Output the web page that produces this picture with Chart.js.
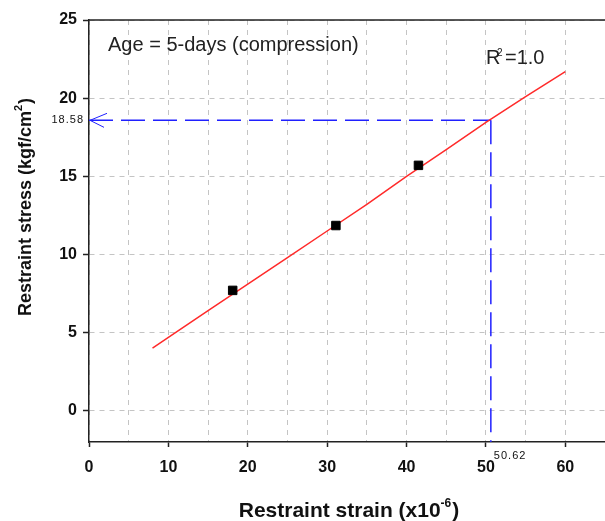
<!DOCTYPE html>
<html>
<head>
<meta charset="utf-8">
<script src="https://cdn.jsdelivr.net/npm/chart.js@4.4.1/dist/chart.umd.min.js"></script>
<style>
  html, body { margin: 0; padding: 0; background: #fff; }
</style>
</head>
<body>
<canvas id="stressChart" width="605" height="521"></canvas>
<script>
// measured points (restraint strain x1e-6, stress kgf/cm2)
var strainPts = [18.1, 31.1, 41.5];
var stressPts = [7.7, 11.85, 15.7];

// fitted curve
var fitStrain = [8, 10, 15, 20, 25, 30, 35, 40, 45, 50, 55, 60];
var fitStress = [4.0, 4.7, 6.4, 8.1, 9.8, 11.5, 13.2, 15.0, 16.7, 18.45, 20.1, 21.7];

// read-off point for the blue guide
var readStrain = 50.62;
var readStress = 18.58;

var xTicks = [0, 5, 10, 15, 20, 25, 30, 35, 40, 45, 50, 55, 60];
var yTicks = [0, 5, 10, 15, 20, 25];
var xRange = [0, 65];
var yRange = [-2, 25];

var FONT = "'Liberation Sans', Arial, sans-serif";
var AXIS = "#222";
var BLUE = "#2020ff";

function toXY(xs, ys) {
    return xs.map(function (x, i) { return { x: x, y: ys[i] }; });
}

// draw a run of text pieces (for superscripts), centred on x
function drawRich(ctx, parts, x, y) {
    var total = 0;
    parts.forEach(function (p) {
        ctx.font = p.font;
        p.w = ctx.measureText(p.t).width + (p.kern || 0);
        total += p.w;
    });
    var cx = x - total / 2;
    parts.forEach(function (p) {
        ctx.font = p.font;
        ctx.fillText(p.t, cx, y + (p.dy || 0));
        cx += p.w;
    });
}

var annotations = {
    id: "annotations",
    afterDraw: function (chart) {
        var ctx = chart.ctx;
        var area = chart.chartArea;
        var xs = chart.scales.x, ys = chart.scales.y;
        ctx.save();

        // top frame line
        ctx.strokeStyle = AXIS;
        ctx.lineWidth = 1.5;
        ctx.beginPath();
        ctx.moveTo(area.left, area.top);
        ctx.lineTo(area.right, area.top);
        ctx.stroke();

        // open arrow head on the y axis
        var ay = ys.getPixelForValue(readStress);
        var ax = xs.getPixelForValue(0);
        ctx.strokeStyle = BLUE;
        ctx.lineWidth = 1;
        ctx.beginPath();
        ctx.moveTo(ax + 18, ay - 7);
        ctx.lineTo(ax + 1, ay);
        ctx.lineTo(ax + 15, ay + 7);
        ctx.stroke();

        ctx.fillStyle = "#111";
        ctx.textBaseline = "alphabetic";

        // small read-off labels
        ctx.font = "11px " + FONT;
        ctx.letterSpacing = "1px";
        ctx.textAlign = "right";
        ctx.fillText(readStress.toFixed(2), ax - 5, ay + 3);
        ctx.textAlign = "left";
        ctx.fillText(readStrain.toFixed(2), xs.getPixelForValue(readStrain) + 3, area.bottom + 17);
        ctx.letterSpacing = "0px";

        // in-plot notes
        ctx.fillStyle = "#222";
        ctx.font = "20px " + FONT;
        ctx.fillText("Age = 5-days (compression)", 108, 51);
        ctx.fillText("R", 486, 64);
        ctx.font = "10px " + FONT;
        ctx.fillText("2", 497, 56);
        ctx.font = "20px " + FONT;
        ctx.fillText("=1.0", 505, 64);

        // axis titles
        ctx.fillStyle = "#111";
        ctx.textAlign = "left";
        drawRich(ctx, [
            { t: "Restraint strain (x10", font: "bold 21px " + FONT },
            { t: "-6", font: "bold 12px " + FONT, dy: -10, kern: 1 },
            { t: ")", font: "bold 21px " + FONT }
        ], 349, 517);

        ctx.translate(31, 207);
        ctx.rotate(-Math.PI / 2);
        drawRich(ctx, [
            { t: "Restraint stress (kgf/cm", font: "bold 18px " + FONT },
            { t: "2", font: "bold 11px " + FONT, dy: -9, kern: 1 },
            { t: ")", font: "bold 18px " + FONT }
        ], 0, 0);

        ctx.restore();
    }
};

document.addEventListener("DOMContentLoaded", function () {
    var ctx = document.getElementById("stressChart").getContext("2d");

    var chart = new Chart(ctx, {
        type: "scatter",
        data: {
            datasets: [{
                label: "Measured",
                data: toXY(strainPts, stressPts),
                pointStyle: "rect",
                pointRadius: 6,
                pointHoverRadius: 6,
                pointBackgroundColor: "#000",
                pointBorderColor: "#000",
                showLine: false
            }, {
                label: "Fit",
                data: toXY(fitStrain, fitStress),
                showLine: true,
                borderColor: "#ff2a2a",
                borderWidth: 1.5,
                pointRadius: 0,
                tension: 0
            }, {
                label: "Guide h",
                data: toXY([0, readStrain], [readStress, readStress]),
                showLine: true,
                borderColor: BLUE,
                borderWidth: 1.5,
                borderDash: [24, 8],
                pointRadius: 0
            }, {
                label: "Guide v",
                data: toXY([readStrain, readStrain], [readStress, yRange[0]]),
                showLine: true,
                borderColor: BLUE,
                borderWidth: 1.5,
                borderDash: [24, 8],
                pointRadius: 0
            }]
        },
        options: {
            responsive: false,
            animation: false,
            layout: {
                autoPadding: false,
                padding: { top: 20, right: 0, bottom: 0, left: 0 }
            },
            plugins: {
                legend: { display: false },
                tooltip: { enabled: false }
            },
            scales: {
                x: {
                    type: "linear",
                    min: xRange[0],
                    max: xRange[1],
                    afterBuildTicks: function (s) {
                        s.ticks = xTicks.map(function (v) { return { value: v }; });
                    },
                    afterFit: function (s) {
                        s.height = 79;
                        s.paddingLeft = 0;
                        s.paddingRight = 0;
                    },
                    ticks: {
                        autoSkip: false,
                        maxRotation: 0,
                        padding: 11,
                        color: "#111",
                        font: { family: FONT, size: 16, weight: "bold" },
                        callback: function (v) { return v % 10 === 0 ? v : ""; }
                    },
                    grid: {
                        color: "#c4c4c4",
                        lineWidth: 1,
                        tickLength: 5,
                        tickWidth: 1.5,
                        tickBorderDash: [],
                        tickColor: function (c) {
                            return c.tick && c.tick.value % 10 === 0 ? AXIS : "rgba(0,0,0,0)";
                        }
                    },
                    border: { color: AXIS, width: 1.5, dash: [5, 5] }
                },
                y: {
                    type: "linear",
                    min: yRange[0],
                    max: yRange[1],
                    afterBuildTicks: function (s) {
                        s.ticks = yTicks.map(function (v) { return { value: v }; });
                    },
                    afterFit: function (s) { s.width = 89; },
                    ticks: {
                        padding: 6,
                        color: "#111",
                        font: { family: FONT, size: 16, weight: "bold" }
                    },
                    grid: {
                        color: "#c4c4c4",
                        lineWidth: 1,
                        tickLength: 6,
                        tickWidth: 1.5,
                        tickBorderDash: [],
                        tickColor: AXIS
                    },
                    border: { color: AXIS, width: 1.5, dash: [5, 5] }
                }
            }
        },
        plugins: [annotations]
    });
});
</script>
</body>
</html>
